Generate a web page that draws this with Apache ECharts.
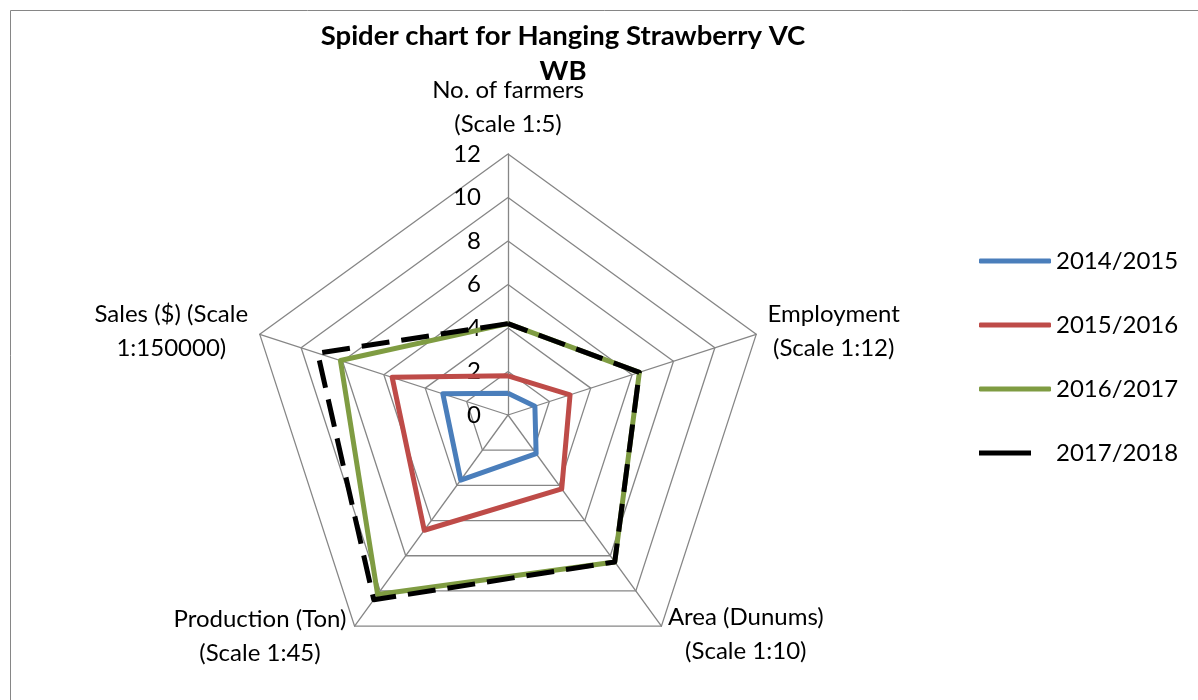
<!DOCTYPE html>
<html>
<head>
<meta charset="utf-8">
<script src="https://cdn.jsdelivr.net/npm/echarts@6/dist/echarts.min.js"></script>
<style>html,body{margin:0;padding:0;background:#fff;}#chart{width:1198px;height:700px;}</style>
</head>
<body>
<div id="chart"></div>
<script>
// Indicators in ECharts (counter-clockwise) order starting at top
const categories = [
  'No. of farmers\n(Scale 1:5)',
  'Sales ($) (Scale\n1:150000)',
  'Production (Ton)\n(Scale 1:45)',
  'Area (Dunums)\n(Scale 1:10)',
  'Employment\n(Scale 1:12)'
];
const axisMax = 12;
const tickStep = 2;
const seriesNames = ['2014/2015', '2015/2016', '2016/2017', '2017/2018'];
const v2014 = [1.0, 3.15, 3.7, 2.2, 1.3];
const v2015 = [1.8, 5.6, 6.55, 4.2, 3.0];
const v2016 = [4.2, 8.1, 10.2, 8.35, 6.35];
const v2017 = [4.2, 9.2, 10.5, 8.35, 6.35];
const seriesValues = [v2014, v2015, v2016, v2017];

const FONT = 'Lato';
const FS = 24;
const colors = ['#4A7EBB', '#BE4B48', '#7F9C42', '#000000'];
const nameGaps = [13, 11, 13, 10, 11];
const nameWidths = [155, 156, 174, 157, 134];

const chart = echarts.init(document.getElementById('chart'), null, {renderer: 'canvas'});

const indicator = categories.map((c, i) => {
  const o = {name: c, min: 0, max: axisMax, nameGap: nameGaps[i]};
  if (i === 0) {
    o.axisLabel = {show: true, margin: 27, fontSize: FS, color: '#000', fontFamily: FONT};
  }
  return o;
});

const rich = {};
nameWidths.forEach((w, i) => { rich['n' + i] = {width: w, align: 'center', fontSize: FS, fontFamily: FONT, color: '#000', lineHeight: 34}; });

const option = {
  animation: false,
  backgroundColor: '#fff',
  title: {
    text: 'Spider chart for Hanging Strawberry VC\nWB',
    left: 558,
    top: 14,
    textAlign: 'center',
    textStyle: {fontFamily: FONT, fontSize: 27.5, fontWeight: 'bold', color: '#000', lineHeight: 35}
  },
  legend: {
    orient: 'vertical',
    left: 974,
    top: 244,
    itemWidth: 72,
    itemHeight: 5,
    itemGap: 40,
    textStyle: {fontFamily: FONT, fontSize: FS, color: '#000'},
    data: seriesNames.map((n, i) => i === 3 ? {name: n, icon: 'path://M0,0H52V5H0ZM72,2.5L72,2.5Z'} : {name: n, icon: 'roundRect'})
  },
  radar: {
    center: [508, 415],
    radius: 261,
    startAngle: 90,
    shape: 'polygon',
    splitNumber: axisMax / tickStep,
    indicator: indicator,
    axisName: {
      color: '#000',
      fontSize: FS,
      fontFamily: FONT,
      lineHeight: 34,
      formatter: function (name) {
        const idx = categories.indexOf(name);
        return name.split('\n').map(l => '{n' + idx + '|' + l + '}').join('\n');
      },
      rich: rich
    },
    splitLine: {lineStyle: {color: '#868686', width: 1.3}},
    splitArea: {show: false},
    axisLine: {lineStyle: {color: '#868686', width: 1.3}},
    axisTick: {show: false}
  },
  series: seriesNames.map((n, i) => ({
    type: 'radar',
    name: n,
    symbol: 'none',
    z: 2 + i,
    lineStyle: {width: 5, color: colors[i], type: i === 3 ? [28, 12] : 'solid'},
    itemStyle: {color: colors[i]},
    data: [{name: n, value: seriesValues[i]}]
  })),
  graphic: [{
    type: 'rect',
    shape: {x: 10.5, y: 10.5, width: 1300, height: 800},
    style: {fill: null, stroke: '#868686', lineWidth: 1},
    silent: true
  }]
};
chart.setOption(option);
</script>
</body>
</html>
